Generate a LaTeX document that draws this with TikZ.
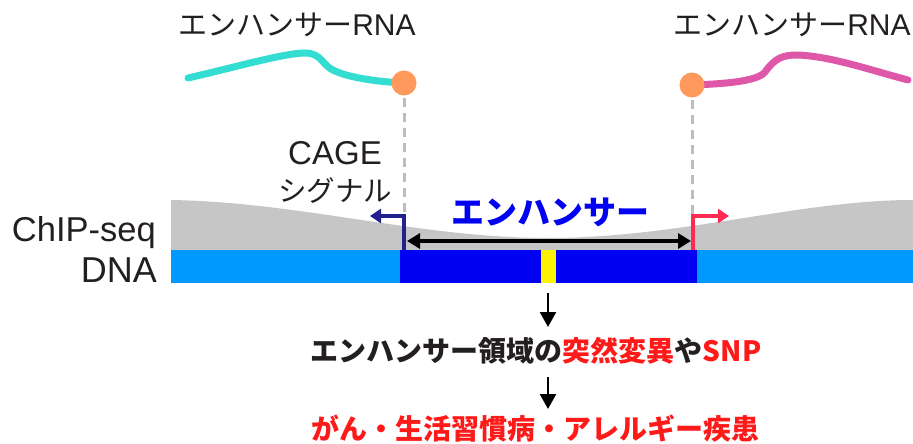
\documentclass[tikz,border=0pt]{standalone}
\usepackage{fontspec}
\setmainfont{Noto Sans CJK JP}
\newfontfamily\latinsf{Liberation Sans}
\usetikzlibrary{arrows.meta}
\definecolor{txt}{HTML}{231F20}
\definecolor{chip}{HTML}{C6C6C6}
\definecolor{dnalight}{HTML}{0099FF}
\definecolor{enhblue}{HTML}{0000F2}
\definecolor{mutyellow}{HTML}{FFF200}
\definecolor{tsscirc}{HTML}{FF9A5C}
\definecolor{rnacyan}{HTML}{33DDD2}
\definecolor{rnamag}{HTML}{DE57A8}
\definecolor{cagenavy}{HTML}{22228C}
\definecolor{cagered}{HTML}{FF2A50}
\definecolor{dashgray}{HTML}{BDBDBD}
\definecolor{hotred}{HTML}{FF1A1A}
\tikzset{
  lbl/.style={text=txt, inner sep=0pt, font=\fontsize{29}{34}\selectfont},
  rnaline/.style={line width=7pt, line cap=round},
  tssdot/.style={circle, fill=tsscirc, minimum size=25pt, inner sep=0pt},
  dashline/.style={dashgray, line width=3pt, dash pattern=on 9pt off 6pt},
  cagearrow/.style={line width=3.5pt, -{Triangle[length=11pt,width=14pt]}},
  spanarrow/.style={black, line width=4pt, {Triangle[length=13pt,width=15pt]}-{Triangle[length=13pt,width=15pt]}},
  downarrow/.style={black, line width=2.6pt, -{Triangle[length=15pt,width=16pt]}},
}
\begin{document}
\begin{tikzpicture}[x=1pt,y=-1pt]
\useasboundingbox (0,0) rectangle (913,444);
% ChIP-seq profile
\fill[chip] (171,250) -- (171,200) .. controls (300,202) and (420,238) .. (548,238)
  .. controls (680,238) and (800,200) .. (913,200) -- (913,250) -- cycle;
% DNA
\node[fill=dnalight, minimum width=742pt, minimum height=33pt, inner sep=0pt, anchor=north west] (dna) at (171,250) {};
\node[fill=enhblue, minimum width=297pt, minimum height=33pt, inner sep=0pt, anchor=north west] (enh) at (400,250) {};
\node[fill=mutyellow, minimum width=15pt, minimum height=33pt, inner sep=0pt, anchor=north west] (mut) at (541,250) {};
% coordinates
\coordinate (pL) at (404,83);
\coordinate (pR) at (692,85);
\coordinate (tssL) at (404,250);
\coordinate (tssR) at (693,250);
\coordinate (tipL) at (370,216);
\coordinate (tipR) at (729,216);
\coordinate (topL) at (404,216);
\coordinate (topR) at (692,216);
\coordinate (aL) at (407,241);
\coordinate (aR) at (691,241);
\coordinate (d1s) at (548,293);
\coordinate (d1e) at (548,327);
\coordinate (d2s) at (548,377);
\coordinate (d2e) at (548,409);
% dashed lines
\draw[dashline] (pL) -- (topL);
\draw[dashline] (pR) -- (topR);
% RNA curves
\draw[rnaline, rnacyan] (188,78) .. controls (240,66) and (285,53) .. (305,53)
  .. controls (322,53) and (322,66) .. (335,71) .. controls (350,78) and (380,82) .. (pL);
\draw[rnaline, rnamag] (pR) .. controls (720,84) and (757,82) .. (765,72)
  .. controls (775,58) and (783,55) .. (797,55) .. controls (830,56) and (870,70) .. (908,80);
\node[tssdot] (cL) at (pL) {};
\node[tssdot] (cR) at (pR) {};
% CAGE arrows
\draw[cagearrow, cagenavy] (tssL) |- (tipL);
\draw[cagearrow, cagered] (tssR) |- (tipR);
% span arrow
\draw[spanarrow] (aL) -- (aR);
% labels
\node[lbl, anchor=base] (rnaL) at (297,36) {エンハンサー{\latinsf\fontsize{30}{34}\selectfont RNA}};
\node[lbl, anchor=base] (rnaR) at (792,36) {エンハンサー{\latinsf\fontsize{30}{34}\selectfont RNA}};
\node[lbl, align=center, font=\fontsize{28.5}{37}\selectfont] (cage) at (335,172) {{\latinsf\fontsize{33}{37}\selectfont CAGE}\\シグナル};
\node[lbl, anchor=base east, font=\latinsf\fontsize{34.5}{40}\selectfont] (chip) at (156,241) {ChIP-seq};
\node[lbl, anchor=base east, font=\latinsf\fontsize{36}{40}\selectfont] (dnalbl) at (157,282) {DNA};
\node[lbl, anchor=base, text=enhblue, font=\fontsize{33}{40}\selectfont\bfseries] (enhlbl) at (550,224) {エンハンサー};
\node[lbl, anchor=base, font=\fontsize{28}{34}\selectfont\bfseries] (mid) at (536,361) {エンハンサー領域の\textcolor{hotred}{突然変異}や\textcolor{hotred}{SNP}};
\node[lbl, anchor=base, text=hotred, font=\fontsize{28}{34}\selectfont\bfseries] (bot) at (535,439) {がん・生活習慣病・アレルギー疾患};
% down arrows
\draw[downarrow] (d1s) -- (d1e);
\draw[downarrow] (d2s) -- (d2e);
\end{tikzpicture}
\end{document}
